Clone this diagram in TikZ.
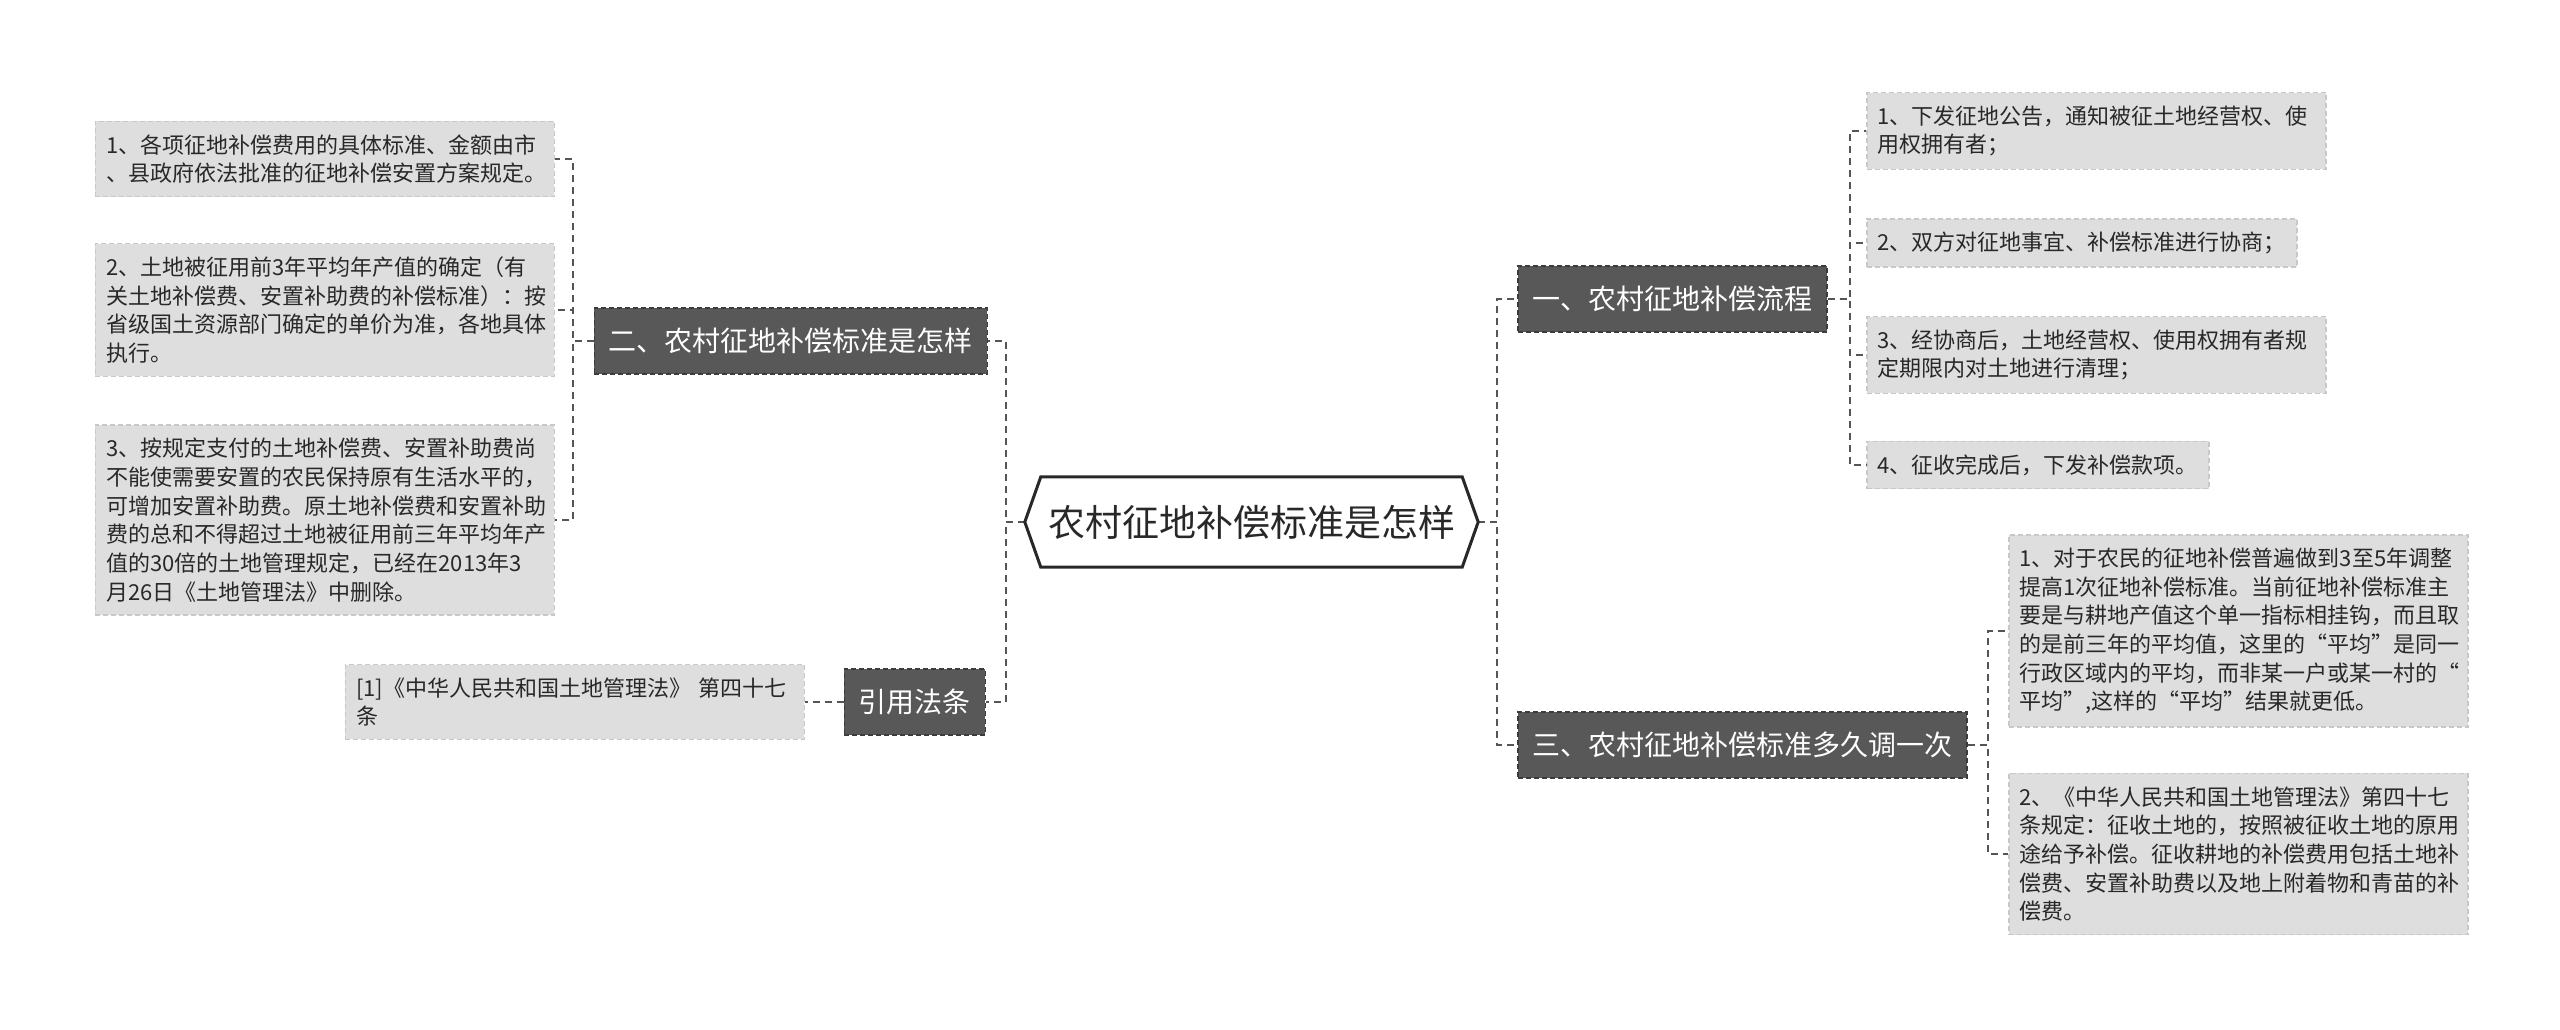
\documentclass[tikz,border=0pt]{standalone}
\usepackage{fontspec}
\usepackage{xcolor}
\setmainfont{Noto Sans CJK SC}
\definecolor{hojagris}{RGB}{222,222,222}
\definecolor{bordehoja}{RGB}{200,200,200}
\definecolor{ramagris}{RGB}{88,88,88}
\definecolor{borderama}{RGB}{60,60,60}
\definecolor{enlace}{RGB}{85,85,85}
\definecolor{tinta}{RGB}{40,40,40}

\tikzset{
  leaf/.style={fill=hojagris, draw=bordehoja, line width=1.5pt, dash pattern=on 5pt off 3pt,
    text=tinta, font=\fontsize{22}{28.7}\selectfont, align=left, inner xsep=11pt, inner ysep=13pt},
  wideleaf/.style={leaf, text width=437pt},
  branch/.style={fill=ramagris, draw=borderama, line width=1.5pt, dash pattern=on 5pt off 3pt,
    text=white, font=\fontsize{28}{34}\selectfont, inner xsep=14.5pt, minimum height=66pt},
  link/.style={draw=enlace, line width=2pt, dash pattern=on 7pt off 5pt},
  rootedge/.style={draw=tinta, line width=3pt, line join=miter}
}

\begin{document}
\begin{tikzpicture}[x=1pt, y=-1pt]
    \fill[white] (0,0) rectangle (2560,1030);
    \useasboundingbox (0,0) rectangle (2560,1030);

    % centro
    \node (root) at (1251.5,522) [minimum width=453pt, minimum height=90pt, inner sep=0pt,
      font=\fontsize{37}{44}\selectfont, text=tinta] {农村征地补偿标准是怎样};

    % ramas
    \node[branch, anchor=east] (b2) at (988,341) {二、农村征地补偿标准是怎样};
    \node[branch, anchor=east] (bref) at (986,702) {引用法条};
    \node[branch, anchor=west] (b1) at (1517,299) {一、农村征地补偿流程};
    \node[branch, anchor=west] (b3) at (1517,745) {三、农村征地补偿标准多久调一次};

    % hojas izquierda
    \node[wideleaf, anchor=east] (l21) at (555,159) {1、各项征地补偿费用的具体标准、金额由市\\、县政府依法批准的征地补偿安置方案规定。};
    \node[wideleaf, anchor=east] (l22) at (555,310) {2、土地被征用前3年平均年产值的确定（有\\关土地补偿费、安置补助费的补偿标准）：按\\省级国土资源部门确定的单价为准，各地具体\\执行。};
    \node[wideleaf, anchor=east] (l23) at (555,520) {3、按规定支付的土地补偿费、安置补助费尚\\不能使需要安置的农民保持原有生活水平的，\\可增加安置补助费。原土地补偿费和安置补助\\费的总和不得超过土地被征用前三年平均年产\\值的30倍的土地管理规定，已经在2013年3\\月26日《土地管理法》中删除。};
    \node[wideleaf, anchor=east] (lref) at (805,702) {[1]《中华人民共和国土地管理法》 第四十七\\条};

    % hojas derecha
    \node[wideleaf, anchor=west] (l11) at (1866,131) {1、下发征地公告，通知被征土地经营权、使\\用权拥有者；};
    \node[leaf, anchor=west] (l12) at (1866,243) {2、双方对征地事宜、补偿标准进行协商；};
    \node[wideleaf, anchor=west] (l13) at (1866,355) {3、经协商后，土地经营权、使用权拥有者规\\定期限内对土地进行清理；};
    \node[leaf, anchor=west] (l14) at (1866,465) {4、征收完成后，下发补偿款项。};
    \node[wideleaf, anchor=west] (l31) at (2008,631) {1、对于农民的征地补偿普遍做到3至5年调整\\提高1次征地补偿标准。当前征地补偿标准主\\要是与耕地产值这个单一指标相挂钩，而且取\\的是前三年的平均值，这里的“平均”是同一\\行政区域内的平均，而非某一户或某一村的“\\平均”,这样的“平均”结果就更低。};
    \node[wideleaf, anchor=west] (l32) at (2008,854) {2、《中华人民共和国土地管理法》第四十七\\条规定：征收土地的，按照被征收土地的原用\\途给予补偿。征收耕地的补偿费用包括土地补\\偿费、安置补助费以及地上附着物和青苗的补\\偿费。};

    % enlaces
    \foreach \rama in {b2,bref}
      \draw[link] (root.west) -- ++(-19,0) |- (\rama.east);
    \foreach \rama in {b1,b3}
      \draw[link] (root.east) -- ++(19,0) |- (\rama.west);
    \foreach \hoja in {l21,l22,l23}
      \draw[link] (b2.west) -- ++(-21,0) |- (\hoja.east);
    \draw[link] (bref.west) -- (lref.east);
    \foreach \hoja in {l11,l12,l13,l14}
      \draw[link] (b1.east) -- ++(22,0) |- (\hoja.west);
    \foreach \hoja in {l31,l32}
      \draw[link] (b3.east) -- ++(20,0) |- (\hoja.west);

    % hexagono
    \draw[rootedge] (root.west) -- ([xshift=16pt]root.north west) -- ([xshift=-16pt]root.north east)
      -- (root.east) -- ([xshift=-16pt]root.south east) -- ([xshift=16pt]root.south west) -- cycle;
  \end{tikzpicture}
\end{document}
